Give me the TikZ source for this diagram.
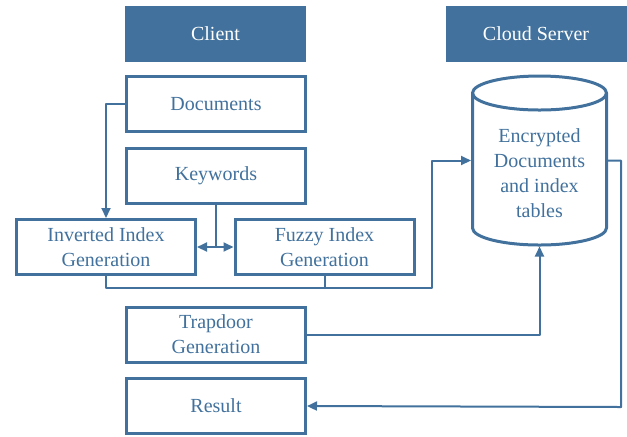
\documentclass[tikz,border=0pt]{standalone}
\usepackage{fontspec}
\setmainfont{Liberation Serif}
\usetikzlibrary{arrows.meta}
\definecolor{qqttcc}{rgb}{0.255,0.443,0.612}
\tikzset{
	head/.style={fill=qqttcc,text=white,minimum width=90.5pt,minimum height=28pt,inner sep=0pt},
	stage/.style={draw=qqttcc,line width=1.5pt,line join=miter,text=qqttcc,minimum width=89.5pt,minimum height=27.5pt,align=center,inner sep=0pt},
	link/.style={color=qqttcc,line width=1pt}
}
\begin{document}
\begin{tikzpicture}[line cap=round,line join=round,>={Triangle[length=5pt,width=4.5pt]},x=0.5pt,y=-0.5pt,font=\fontsize{10}{12.6}\selectfont]
	\useasboundingbox (0,0) rectangle (627,436);
	\node[head] (client) at (215.5,34) {Client};
	\node[head] (server) at (536,34) {Cloud Server};
	\node[stage] (docs) at (216,104) {Documents};
	\node[stage] (kw) at (216,175.5) {Keywords};
	\node[stage] (inv) at (106,247) {Inverted Index\\Generation};
	\node[stage] (fuz) at (324.5,247) {Fuzzy Index\\Generation};
	\node[stage] (trap) at (216,334.5) {Trapdoor\\Generation};
	\node[stage] (result) at (216,406) {Result};
	\node[minimum width=67pt,minimum height=84.5pt,inner sep=0pt,outer sep=0.75pt] (store) at (539.5,160.5) {};
	\draw[color=qqttcc,line width=1.5pt] (472.5,93) -- (472.5,228) arc[start angle=180,end angle=360,x radius=33.5pt,y radius=8.5pt] -- (606.5,93);
	\draw[color=qqttcc,line width=1.5pt] (539.5,93) ellipse [x radius=33.5pt,y radius=8.5pt];
	\node[text=qqttcc,align=center] (storetext) at (539.5,173) {Encrypted\\Documents\\and index\\tables};
	\coordinate (split) at (kw.south |- inv.east);
	\coordinate (bus) at (432,288);
	\coordinate (back) at (621,407);
	\draw[link,->] (docs.west) -| (inv.north);
	\draw[link] (kw.south) -- (split);
	\draw[link,<->] (inv.east) -- (fuz.west);
	\draw[link,->] (inv.south) |- (bus) |- (store.west);
	\draw[link] (fuz.south) -- (fuz.south |- bus);
	\draw[link,->] (trap.east) -| (store.south);
	\draw[link,->] (store.east) -| (back) -- (result.east);
\end{tikzpicture}
\end{document}
